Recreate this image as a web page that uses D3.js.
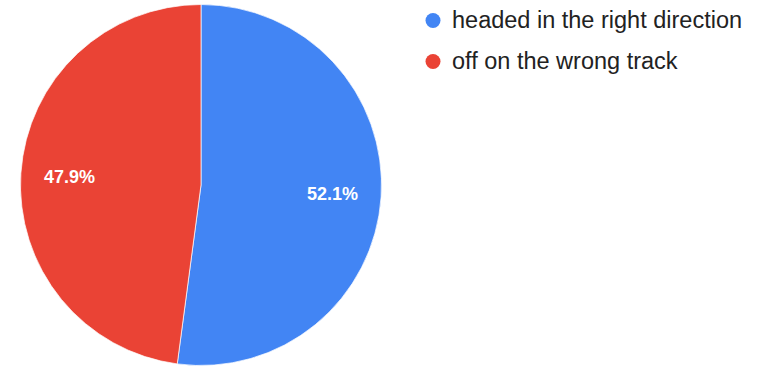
<!DOCTYPE html>
<html>
<head>
<meta charset="utf-8">
<script src="https://cdn.jsdelivr.net/npm/d3@7"></script>
<style>
  html, body { margin: 0; padding: 0; background: #fff; }
  svg { display: block; }
</style>
</head>
<body>
<svg id="chart" width="763" height="367"></svg>
<script>
// Survey answers and their shares
const categories = ["headed in the right direction", "off on the wrong track"];
const values = [52.1, 47.9];
const colors = ["#4285F4", "#EA4335"];

const svg = d3.select("#chart");
const cx = 201, cy = 185, radius = 180.5;

const total = d3.sum(values);
const data = categories.map((c, i) => ({ category: c, value: values[i], color: colors[i] }));

const pie = d3.pie().value(d => d.value).sort(null);
const arc = d3.arc().innerRadius(0).outerRadius(radius);
const labelArc = d3.arc().innerRadius(radius * 0.73).outerRadius(radius * 0.73);

const g = svg.append("g").attr("transform", `translate(${cx},${cy})`);
const arcs = pie(data);

g.selectAll("path.slice")
  .data(arcs)
  .join("path")
  .attr("class", "slice")
  .attr("d", arc)
  .attr("fill", d => d.data.color)
  .attr("stroke", "#fff")
  .attr("stroke-width", 0.7);

g.selectAll("text.pct")
  .data(arcs)
  .join("text")
  .attr("class", "pct")
  .attr("transform", d => `translate(${labelArc.centroid(d)})`)
  .attr("text-anchor", "middle")
  .attr("dy", "0.35em")
  .attr("fill", "#fff")
  .attr("font-family", "Arial, 'Liberation Sans', sans-serif")
  .attr("font-weight", "bold")
  .attr("font-size", 18)
  .text(d => (d.data.value / total * 100).toFixed(1) + "%");

// Legend
const legend = svg.append("g").attr("transform", "translate(433,20.5)");
const items = legend.selectAll("g.item")
  .data(data)
  .join("g")
  .attr("class", "item")
  .attr("transform", (d, i) => `translate(0,${i * 41})`);

items.append("circle")
  .attr("r", 7.5)
  .attr("fill", d => d.color);

items.append("text")
  .attr("x", 19)
  .attr("y", 7.5)
  .attr("fill", "#222")
  .attr("font-family", "Arial, 'Liberation Sans', sans-serif")
  .attr("font-size", 23.5)
  .text(d => d.category);
</script>
</body>
</html>
